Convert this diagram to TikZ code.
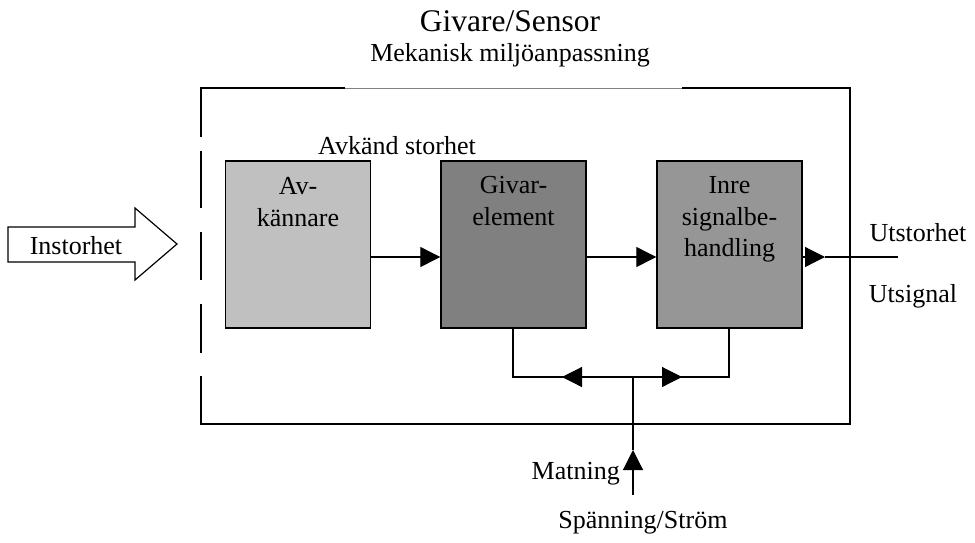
\documentclass[tikz,border=0pt]{standalone}
\usepackage{fontspec}
\setmainfont{Liberation Serif}
\usetikzlibrary{arrows.meta}
\definecolor{avfill}{HTML}{C0C0C0}
\definecolor{givfill}{HTML}{808080}
\definecolor{inrefill}{HTML}{969696}
\begin{document}
\begin{tikzpicture}[x=1pt,y=-1pt,
  lbl/.style={font=\fontsize{26}{31.5}\selectfont, inner sep=0pt, align=center},
  blk/.style={draw=black, line width=1.4pt, minimum width=145pt, minimum height=167pt, inner sep=0pt},
  wire/.style={line width=1.2pt},
  tri/.style={-{Triangle[length=20pt,width=20pt]}},
  frame/.style={line width=1.4pt}]
\useasboundingbox (0,0) rectangle (975,542);

% headings
\node[lbl, font=\fontsize{31.5}{36}\selectfont] (title) at (510,21) {Givare/Sensor};
\node[lbl] (env) at (510,55) {Mekanisk miljöanpassning};

% housing: top edge, right, bottom and a broken left side
\draw[frame] (345,88) -- (201,88) -- (201,137);
\draw[gray, line width=0.8pt] (345,88) -- (682,88);
\draw[frame] (682,88) -- (850,88) -- (850,424) -- (201,424) -- (201,376);
\draw[frame] (201,151) -- (201,208);
\draw[frame] (201,232) -- (201,280);
\draw[frame] (201,304) -- (201,353);

\node[lbl] (sensed) at (397,146) {Avkänd storhet};

% processing blocks
\node[blk, fill=avfill]   (av)   at (298,244.5) {};
\node[blk, fill=givfill]  (giv)  at (513.5,244.5) {};
\node[blk, fill=inrefill] (inre) at (729.5,244.5) {};
\node[lbl, anchor=north] (avt)   at ([yshift=-17pt]av.north)   {Av-\\kännare};
\node[lbl, anchor=north] (givt)  at ([yshift=-16pt]giv.north)  {Givar-\\element};
\node[lbl, anchor=north] (inret) at ([yshift=-16pt]inre.north) {Inre\\signalbe-\\handling};

% input arrow
\draw[line width=1.2pt, fill=white] (8,227) -- (135,227) -- (135,208) -- (177,244) -- (135,280) -- (135,262) -- (8,262) -- cycle;
\node[lbl] (in) at (76,246) {Instorhet};

% signal chain
\draw[wire, tri] (av.east |- 0,257) -- (giv.west |- 0,257);
\draw[wire, tri] (giv.east |- 0,257) -- (inre.west |- 0,257);
\coordinate (outhead) at (825,257);
\coordinate (outend) at (898,257);
\draw[wire, tri] (inre.east |- 0,257) -- (outhead);
\draw[wire] (outhead) -- (outend);
\node[lbl] (ut1) at (918,233) {Utstorhet};
\node[lbl] (ut2) at (913,296) {Utsignal};

% supply distribution
\coordinate (gl) at (513,377);
\coordinate (il) at (729,377);
\coordinate (hub) at (633,377);
\coordinate (lefttip) at (562,377);
\coordinate (righttip) at (682,377);
\coordinate (feed) at (633,495);
\coordinate (feedtip) at (633,450);
\draw[wire] (giv.south -| gl) -- (gl) -- (il) -- (inre.south -| il);
\draw[wire, tri] (hub) -- (lefttip);
\draw[wire, tri] (hub) -- (righttip);
\draw[wire, tri] (feed) -- (feedtip);
\draw[wire] (feedtip) -- (hub);
\node[lbl, anchor=east] (mat) at (620,474) {Matning};
\node[lbl] (spw) at (643,523) {Spänning/Ström};
\end{tikzpicture}
\end{document}
